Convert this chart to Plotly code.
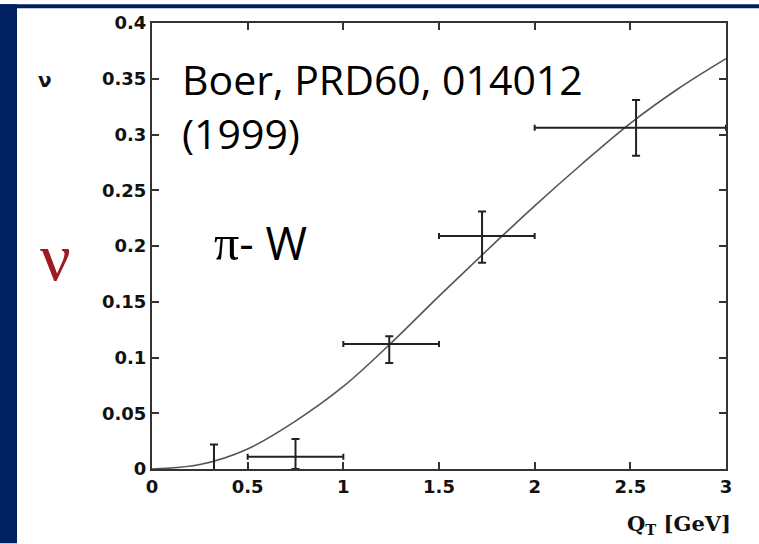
import plotly.graph_objects as go

# Theory curve
curve_x = [0, 0.25, 0.5, 0.75, 1.0, 1.25, 1.5, 1.75, 2.0, 2.25, 2.5, 2.75, 3.0]
curve_y = [0, 0.004, 0.018, 0.043, 0.074, 0.113, 0.155, 0.196, 0.236, 0.274, 0.310, 0.341, 0.368]

# Data points with error bars
pt_x = [0.324, 0.75, 1.24, 1.725, 2.53]
pt_y = [0.010, 0.011, 0.112, 0.209, 0.306]
pt_xerr_plus = [0.0, 0.25, 0.26, 0.275, 0.47]
pt_xerr_minus = [0.0, 0.25, 0.24, 0.225, 0.53]
pt_yerr_plus = [0.012, 0.016, 0.007, 0.022, 0.025]
pt_yerr_minus = [0.012, 0.011, 0.017, 0.024, 0.025]

x_ticks = [0, 0.5, 1, 1.5, 2, 2.5, 3]
y_ticks = [0, 0.05, 0.1, 0.15, 0.2, 0.25, 0.3, 0.35, 0.4]

NAVY = "#002060"
W, H = 759, 544
L, R, T, B = 152, 33, 19, 75
PW, PH = W - L - R, H - T - B


def px(x):
    return (x - L) / PW


def py(y):
    return (H - B - y) / PH


fig = go.Figure()
fig.add_trace(go.Scatter(x=curve_x, y=curve_y, mode="lines",
                         line=dict(color="#555555", width=1.6, shape="spline", smoothing=1),
                         hoverinfo="skip", showlegend=False))
fig.add_trace(go.Scatter(
    x=pt_x, y=pt_y, mode="markers",
    marker=dict(size=1, color="rgba(0,0,0,0)"),
    error_x=dict(type="data", array=pt_xerr_plus, arrayminus=pt_xerr_minus,
                 symmetric=False, color="#222222", thickness=2, width=3),
    error_y=dict(type="data", array=pt_yerr_plus, arrayminus=pt_yerr_minus,
                 symmetric=False, color="#222222", thickness=2, width=4),
    showlegend=False))

tickfont = dict(family="DejaVu Sans", size=18, color="#111111", weight="bold")
fig.update_xaxes(range=[0, 3], tickvals=x_ticks, ticks="inside", ticklen=7, tickwidth=2,
                 tickcolor="#333333", showline=True, linecolor="#333333", linewidth=2,
                 mirror="ticks", showgrid=False, zeroline=False, tickfont=tickfont)
fig.update_yaxes(range=[0, 0.4], tickvals=y_ticks, ticks="inside", ticklen=7, tickwidth=2,
                 tickcolor="#333333", showline=True, linecolor="#333333", linewidth=2,
                 mirror="ticks", showgrid=False, zeroline=False, tickfont=tickfont)

shapes = [
    dict(type="rect", xref="paper", yref="paper", x0=px(0), x1=px(17), y0=py(H), y1=py(0),
         fillcolor=NAVY, line=dict(width=0), layer="below"),
    dict(type="rect", xref="paper", yref="paper", x0=px(0), x1=px(W), y0=py(4), y1=py(0),
         fillcolor=NAVY, line=dict(width=0), layer="below"),
]

annotations = [
    dict(text="Boer, PRD60, 014012", x=px(180), y=py(75), xref="paper", yref="paper",
         xanchor="left", yanchor="middle", showarrow=False,
         font=dict(family="Open Sans", size=41, color="#000000")),
    dict(text="(1999)", x=px(180), y=py(130), xref="paper", yref="paper",
         xanchor="left", yanchor="middle", showarrow=False,
         font=dict(family="Open Sans", size=41, color="#000000")),
    dict(text="<span style='font-family:Liberation Serif;font-size:50px'>π</span>- W",
         x=px(212), y=py(240),
         xref="paper", yref="paper", xanchor="left", yanchor="middle", showarrow=False,
         font=dict(family="Open Sans", size=45, color="#000000")),
    dict(text="ν", x=px(56), y=py(255), xref="paper", yref="paper",
         xanchor="center", yanchor="middle", showarrow=False,
         font=dict(family="Liberation Serif", size=68, color="#9B1B20")),
    dict(text="ν", x=px(45), y=py(77), xref="paper", yref="paper",
         xanchor="center", yanchor="middle", showarrow=False,
         font=dict(family="DejaVu Sans", size=20, color="#111111", weight="bold")),
    dict(text="Q<sub>T</sub> [GeV]", x=px(733), y=py(525), xref="paper", yref="paper",
         xanchor="right", yanchor="middle", showarrow=False,
         font=dict(family="DejaVu Serif", size=21, color="#111111", weight="bold")),
]

fig.update_layout(width=W, height=H, margin=dict(l=L, r=R, t=T, b=B, pad=0),
                  paper_bgcolor="white", plot_bgcolor="white",
                  shapes=shapes, annotations=annotations)

fig.write_html("out.html")
